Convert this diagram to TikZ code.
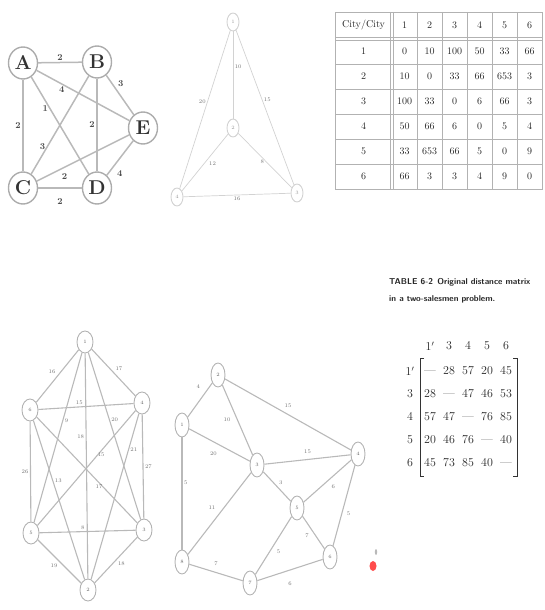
\documentclass[tikz,border=0pt]{standalone}
\usepackage{amsmath,amssymb}
\usepackage{tikz}
\usetikzlibrary{arrows.meta,calc,positioning,shapes.geometric}

\begin{document}
\begin{tikzpicture}[x=1pt, y=-1pt,
  city/.style={draw=gray!65, line width=1.4pt, ellipse, minimum width=29pt, minimum height=32pt, inner sep=0pt, font=\fontsize{20}{20}\selectfont\bfseries, text=black!80},
  road/.style={draw=gray!55, line width=1.5pt},
  wt/.style={font=\fontsize{9}{9}\selectfont\bfseries, text=black!70, inner sep=1.5pt},
  vtx/.style={draw=gray!60, line width=0.9pt, ellipse, minimum width=16pt, minimum height=22pt, inner sep=0pt, font=\fontsize{5}{5}\selectfont, text=black!60},
  pale/.style={vtx, draw=gray!35, minimum width=12pt, minimum height=18pt, text=black!40},
  link/.style={draw=gray!55, line width=1.1pt},
  faint/.style={draw=gray!35, line width=0.7pt},
  tw/.style={font=\fontsize{5.5}{5.5}\selectfont, text=black!55, inner sep=1.5pt},
  cell/.style={font=\fontsize{10}{10}\selectfont, text=black!85, inner sep=0pt},
  grid/.style={draw=gray!60, line width=0.9pt},
  ent/.style={font=\fontsize{12}{12}\selectfont, text=black!85, inner sep=0pt}]

\useasboundingbox (0,0) rectangle (544,610);

% Grafo A-E
\node[city] (A) at (23,63)  {A};
\node[city] (B) at (97,62)  {B};
\node[city] (E) at (143,128) {E};
\node[city] (C) at (23,188) {C};
\node[city] (D) at (97,188) {D};

\draw[road] (A) -- node[wt, above] {2} (B);
\draw[road] (A) -- node[wt, pos=0.27, below] {4} (E);
\draw[road] (A) -- node[wt, pos=0.33, left] {1} (D);
\draw[road] (A) -- node[wt, left] {2} (C);
\draw[road] (B) -- node[wt, pos=0.35, above right] {3} (E);
\draw[road] (B) -- node[wt, pos=0.72, left] {3} (C);
\draw[road] (B) -- node[wt, left] {2} (D);
\draw[road] (C) -- node[wt, pos=0.3, below=4pt] {2} (E);
\draw[road] (C) -- node[wt, below=8pt] {2} (D);
\draw[road] (D) -- node[wt, pos=0.25, below right=2pt] {4} (E);

% Triangolo con nodo centrale
\node[pale] (t1) at (233,22)  {1};
\node[pale] (t2) at (233,128) {2};
\node[pale] (t4) at (177,197) {4};
\node[pale] (t3) at (297,193) {3};

\draw[faint] (t1) -- node[tw, pos=0.45, left] {20} (t4);
\draw[faint] (t1) -- node[tw, pos=0.4, right] {10} (t2);
\draw[faint] (t1) -- node[tw, pos=0.45, right] {15} (t3);
\draw[faint] (t2) -- node[tw, pos=0.45, below right=0pt] {12} (t4);
\draw[faint] (t2) -- node[tw, pos=0.45, below] {8} (t3);
\draw[faint] (t4) -- node[tw, below] {16} (t3);

% Tabella delle distanze
\draw[grid] (335,12) rectangle (542,189);
\draw[grid] (335,37.5) -- (542,37.5) (335,40) -- (542,40);
\foreach \y in {64,89,114,139,164} \draw[grid] (335,\y) -- (542,\y);
\draw[grid] (390.5,12) -- (390.5,189) (393,12) -- (393,189);
\foreach \x in {417,442,467,492,517} \draw[grid] (\x,12) -- (\x,189);

\node[cell] (hd) at (363.5,25.5) {City/City};
\foreach \c in {1,...,6} \node[cell] (c\c) at (379.5+25*\c,25.5) {\c};
\foreach \row [count=\j] in {{0,10,100,50,33,66},{10,0,33,66,653,3},{100,33,0,6,66,3},
                             {50,66,6,0,5,4},{33,653,66,5,0,9},{66,3,3,4,9,0}} {
  \node[cell] (r\j) at (363.5,26.5+25*\j) {\j};
  \foreach \v [count=\i] in \row
    \node[cell] (v\j\i) at (379.5+25*\i,26.5+25*\j) {\v};
}

% Grafo completo a sei nodi
\node[vtx] (h1) at (85,342)  {1};
\node[vtx] (h2) at (30,410)  {6};
\node[vtx] (h3) at (142,403) {4};
\node[vtx] (h4) at (31,533)  {5};
\node[vtx] (h5) at (144,530) {3};
\node[vtx] (h6) at (88,590)  {2};

\draw[link] (h1) -- node[tw, above left] {16} (h2);
\draw[link] (h1) -- node[tw, above right] {17} (h3);
\draw[link] (h1) -- node[tw, pos=0.4, right] {9} (h4);
\draw[link] (h1) -- node[tw, pos=0.4, right] {20} (h5);
\draw[link] (h1) -- node[tw, pos=0.37, left] {18} (h6);
\draw[link] (h2) -- node[tw, pos=0.43, above] {15} (h3);
\draw[link] (h2) -- node[tw, left] {26} (h4);
\draw[link] (h2) -- node[tw, pos=0.62, below] {17} (h5);
\draw[link] (h2) -- node[tw, pos=0.38, right] {13} (h6);
\draw[link] (h3) -- node[tw, pos=0.35, below] {15} (h4);
\draw[link] (h3) -- node[tw, right] {27} (h5);
\draw[link] (h3) -- node[tw, pos=0.22, right] {21} (h6);
\draw[link] (h4) -- node[tw, pos=0.45, above] {8} (h5);
\draw[link] (h4) -- node[tw, below left] {19} (h6);
\draw[link] (h5) -- node[tw, below right] {18} (h6);

% Rete stradale
\node[vtx, minimum width=14pt, minimum height=24pt] (g1) at (218,375) {2};
\node[vtx, minimum width=14pt, minimum height=24pt] (g2) at (182,425) {1};
\node[vtx, minimum width=14pt, minimum height=24pt] (g3) at (257,465) {3};
\node[vtx, minimum width=14pt, minimum height=24pt] (g4) at (358,454) {4};
\node[vtx, minimum width=14pt, minimum height=24pt] (g5) at (297,508) {5};
\node[vtx, minimum width=14pt, minimum height=24pt] (g6) at (330,557) {6};
\node[vtx, minimum width=14pt, minimum height=24pt] (g7) at (182,562) {8};
\node[vtx, minimum width=14pt, minimum height=24pt] (g8) at (250,583) {7};

\draw[link] (g1) -- node[tw, pos=0.3, above left=4pt] {4} (g2);
\draw[link] (g1) -- node[tw, above=5pt] {15} (g4);
\draw[link] (g1) -- node[tw, left=5pt] {10} (g3);
\draw[link] (g2) -- node[tw, pos=0.4, below=8pt] {20} (g3);
\draw[link] (g2) -- node[tw, pos=0.4, right] {5} (g7);
\draw[link] (g3) -- node[tw, above=4pt] {15} (g4);
\draw[link] (g3) -- node[tw, above left=3pt] {11} (g7);
\draw[link] (g3) -- node[tw, above right] {3} (g5);
\draw[link] (g5) -- node[tw, below right=3pt] {6} (g4);
\draw[link] (g4) -- node[tw, pos=0.6, right=3pt] {5} (g6);
\draw[link] (g5) -- node[tw, pos=0.6, right=5pt] {5} (g8);
\draw[link] (g5) -- node[tw, pos=0.6, left=5pt] {7} (g6);
\draw[link] (g7) -- node[tw, above=5pt] {7} (g8);
\draw[link] (g8) -- node[tw, below=10pt] {6} (g6);

% Tabella 6-2
\node[anchor=north west, align=left, inner sep=0pt, font=\fontsize{8.5}{17}\selectfont\sffamily\bfseries, text=black!85]
  (capt) at (389,278) {TABLE 6-2\enspace Original distance matrix\\in a two-salesmen problem.};
\foreach \h [count=\i] in {1',3,4,5,6} \node[ent] (m0\i) at (411+19*\i,346) {$\h$};
\foreach \row/\lab [count=\j] in {{---,28,57,20,45}/1',{28,---,47,46,53}/3,{57,47,---,76,85}/4,
                                  {20,46,76,---,40}/5,{45,73,85,40,---}/6} {
  \node[ent] (l\j) at (410,348+23*\j) {$\lab$};
  \foreach \v [count=\i] in \row
    \node[ent] (m\j\i) at (411+19*\i,348+23*\j) {\vphantom{0}\v};
}
\draw[line width=0.9pt, black!80] (424,358) -- (420,358) -- (420,476) -- (424,476);
\draw[line width=0.9pt, black!80] (513,358) -- (517,358) -- (517,476) -- (513,476);

% cursore
\fill[gray!55] (376,552) ellipse (1.2 and 3);
\fill[red!70] (373,566) ellipse (3.5 and 5);

\end{tikzpicture}
\end{document}
